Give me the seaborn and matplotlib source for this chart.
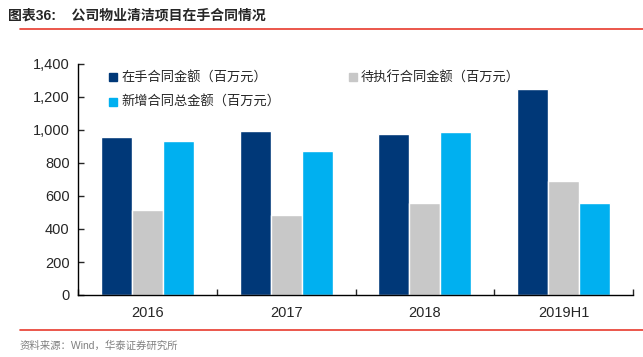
import matplotlib
matplotlib.use("Agg")
import matplotlib.pyplot as plt
from matplotlib.lines import Line2D
from matplotlib.ticker import FuncFormatter, FixedLocator
import pandas as pd
import seaborn as sns

years = ["2016", "2017", "2018", "2019H1"]
in_hand = [955, 993, 976, 1248]
pending = [513, 485, 558, 690]
new_signed = [933, 873, 987, 558]
series_names = ["在手合同金额（百万元）", "待执行合同金额（百万元）", "新增合同总金额（百万元）"]
colors = ["#003878", "#c8c8c8", "#00b0f0"]

sns.set_style("white")
plt.rcParams["font.family"] = ["Liberation Sans", "Noto Sans CJK SC", "DejaVu Sans"]

rows = []
for i, y in enumerate(years):
    for name, vals in zip(series_names, [in_hand, pending, new_signed]):
        rows.append({"year": y, "series": name, "value": vals[i]})
df = pd.DataFrame(rows)

fig = plt.figure(figsize=(6.43, 3.57), dpi=100)
ax = fig.add_axes([78 / 643, 1 - 295 / 357, (633 - 78) / 643, (295 - 64) / 357])

sns.barplot(data=df, x="year", y="value", hue="series", palette=colors,
            width=0.67, saturation=1, ax=ax, legend=False)

ax.set_ylim(0, 1400)
ax.set_yticks(range(0, 1401, 200))
ax.yaxis.set_major_formatter(FuncFormatter(lambda v, p: f"{int(v):,}"))
ax.set_xlim(-0.5, len(years) - 0.5)
ax.set_xlabel("")
ax.set_ylabel("")

for s in ["top", "right"]:
    ax.spines[s].set_visible(False)
for s in ["left", "bottom"]:
    ax.spines[s].set_color("black")
    ax.spines[s].set_linewidth(1)

ax.tick_params(axis="y", which="major", direction="in", length=4, width=1, labelsize=10.5, pad=6)
ax.yaxis.set_tick_params(left=True)
ax.tick_params(axis="x", which="major", length=0, labelsize=10.5, pad=8)
ax.xaxis.set_minor_locator(FixedLocator([i - 0.5 for i in range(len(years) + 1)]))
ax.tick_params(axis="x", which="minor", direction="in", length=4, width=1, bottom=True)

# legend is filled column by column, so order entries to read row by row
order = [0, 2, 1]
handles = [Line2D([0], [0], marker="s", linestyle="", markersize=6,
                  markerfacecolor=colors[k], markeredgecolor=colors[k]) for k in order]
labels = [series_names[k] for k in order]
ax.legend(handles, labels, ncol=2, loc="upper left", bbox_to_anchor=(0.03, 1.02),
          frameon=False, fontsize=9.5, handletextpad=0.1, columnspacing=5.0,
          labelspacing=0.9, handlelength=1.0)

fig.text(8 / 643, 1 - 15 / 357, "图表36:    公司物业清洁项目在手合同情况", fontsize=10,
         fontweight="bold", va="center", ha="left")
fig.add_artist(Line2D([20 / 643, 1], [1 - 29 / 357, 1 - 29 / 357], color="#e8392c", lw=1.2))
fig.add_artist(Line2D([20 / 643, 1], [1 - 330 / 357, 1 - 330 / 357], color="#e8392c", lw=1.2))
fig.text(20 / 643, 1 - 346 / 357, "资料来源：Wind，华泰证券研究所", fontsize=7.5,
         color="#808080", va="center", ha="left")

fig.savefig("out.png", dpi=100)
